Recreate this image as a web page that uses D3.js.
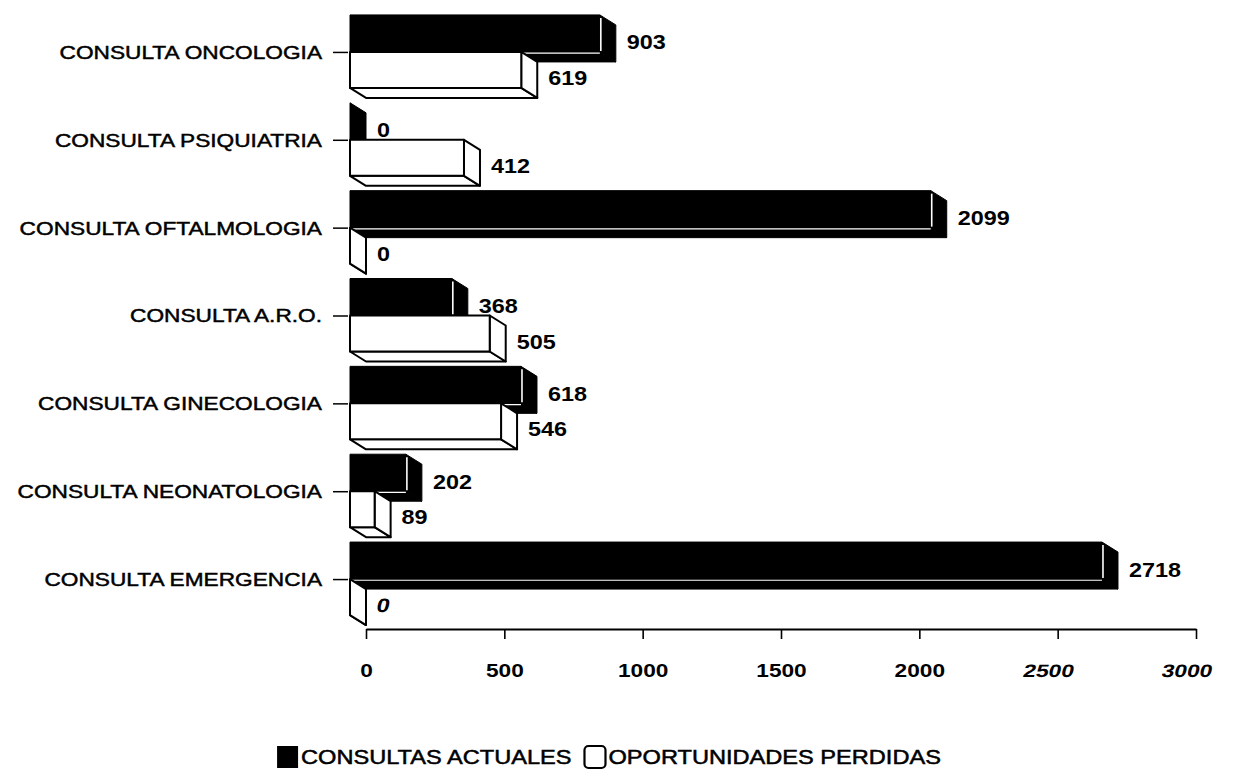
<!DOCTYPE html>
<html>
<head>
<meta charset="utf-8">
<script src="https://cdn.jsdelivr.net/npm/d3@7"></script>
<style>
  html, body { margin: 0; padding: 0; background: #fff; }
  svg { display: block; }
  text { font-family: "Liberation Sans", Arial, Helvetica, sans-serif; fill: #000; }
</style>
</head>
<body>
<svg id="chart" width="1236" height="775"></svg>
<script>
// Consultas por servicio: consultas actuales vs. oportunidades perdidas
const categories = [
  "CONSULTA ONCOLOGIA",
  "CONSULTA PSIQUIATRIA",
  "CONSULTA OFTALMOLOGIA",
  "CONSULTA A.R.O.",
  "CONSULTA GINECOLOGIA",
  "CONSULTA NEONATOLOGIA",
  "CONSULTA EMERGENCIA"
];
const consultasActuales = [903, 0, 2099, 368, 618, 202, 2718];
const oportunidadesPerdidas = [619, 412, 0, 505, 546, 89, 0];
const xTickValues = [0, 500, 1000, 1500, 2000, 2500, 3000];
const seriesNames = ["CONSULTAS ACTUALES", "OPORTUNIDADES PERDIDAS"];

const svg = d3.select("#chart");

// Geometry of the pseudo-3D bars: the front face starts at frontX,
// depth pushes each bar down and to the right by (depthX, depthY).
const frontX = 350;
const depthX = 16;
const depthY = 10;
const axisY = 629;

const x = d3.scaleLinear().domain([0, 3000]).range([0, 830]);
const xFloor = d3.scaleLinear().domain([0, 3000]).range([frontX + depthX, frontX + depthX + 830]);
const y = d3.scaleBand().domain(categories).range([8, 623]);
const yMid = c => y(c) + y.bandwidth() / 2;

const blackH = 37;
const whiteH = 36;

// Horizontal stretch used for the labels (wide lettering)
const stretch = 1.26;

function barFaces(v, top, h) {
  const w = x(v);
  const x0 = frontX, x1 = frontX + w;
  return {
    w,
    front: [[x0, top], [x1, top], [x1, top + h], [x0, top + h]],
    side: [[x1, top], [x1 + depthX, top + depthY], [x1 + depthX, top + h + depthY], [x1, top + h]],
    bottom: [[x0, top + h], [x1, top + h], [x1 + depthX, top + h + depthY], [x0 + depthX, top + h + depthY]]
  };
}

const poly = pts => "M" + pts.map(p => p.join(",")).join("L") + "Z";

// X axis along the floor
const xAxis = d3.axisBottom(xFloor)
  .tickValues(xTickValues)
  .tickSize(10)
  .tickSizeOuter(0)
  .tickPadding(25)
  .tickFormat(d3.format("d"));

const gx = svg.append("g")
  .attr("transform", `translate(0,${axisY})`)
  .call(xAxis);
gx.select(".domain").attr("stroke", "#000").attr("stroke-width", 2);
gx.selectAll(".tick line").attr("stroke", "#000").attr("stroke-width", 1.6);
gx.selectAll(".tick text")
  .attr("font-size", 18)
  .attr("font-weight", "bold")
  .attr("fill", "#000")
  .style("font-family", '"Liberation Sans", Arial, sans-serif')
  .attr("transform", d => d >= 2500 ? `scale(${stretch},1) skewX(-10)` : `scale(${stretch},1)`);

// Category axis
const yAxis = d3.axisLeft(d3.scalePoint().domain(categories).range([yMid(categories[0]), yMid(categories[categories.length - 1])]))
  .tickSize(15)
  .tickSizeOuter(0)
  .tickPadding(0);

const gy = svg.append("g")
  .attr("transform", `translate(${frontX - 2},0)`)
  .call(yAxis);
gy.select(".domain").remove();
gy.selectAll(".tick line").attr("stroke", "#000").attr("stroke-width", 1.5);
gy.selectAll(".tick text")
  .attr("x", -26 / stretch)
  .attr("dy", "0.36em")
  .attr("font-size", 18)
  .attr("fill", "#000")
  .attr("stroke", "#000")
  .attr("stroke-width", 0.45)
  .style("font-family", '"Liberation Sans", Arial, sans-serif')
  .attr("transform", `scale(${stretch},1)`);

// Bars, one group per category: dark bar above, outlined bar below
const bars = svg.append("g");
categories.forEach((c, i) => {
  const mid = yMid(c);
  const g = bars.append("g");

  // Consultas actuales (solid)
  const a = barFaces(consultasActuales[i], mid - blackH, blackH);
  g.append("path").attr("d", poly(a.bottom)).attr("fill", "#000").attr("stroke", "#000").attr("stroke-width", 1);
  g.append("path").attr("d", poly(a.side)).attr("fill", "#000").attr("stroke", "#000").attr("stroke-width", 1);
  if (a.w > 0) {
    g.append("path").attr("d", poly(a.front)).attr("fill", "#000").attr("stroke", "#000").attr("stroke-width", 1);
    // light edges between the faces
    g.append("line")
      .attr("x1", frontX + a.w + 1).attr("x2", frontX + a.w + 1)
      .attr("y1", mid - blackH + 3).attr("y2", mid - 1)
      .attr("stroke", "#fff").attr("stroke-width", 1.6);
    g.append("line")
      .attr("x1", frontX + 2).attr("x2", frontX + a.w)
      .attr("y1", mid + 1.2).attr("y2", mid + 1.2)
      .attr("stroke", "#fff").attr("stroke-width", 1.2);
  }
  g.append("text")
    .attr("transform", `translate(${frontX + a.w + depthX + 11},${mid - 9.5}) scale(1.2,1)`)
    .attr("dy", "0.36em")
    .attr("font-size", 19.5)
    .attr("font-weight", "bold")
    .text(consultasActuales[i]);

  // Oportunidades perdidas (outlined)
  const p = barFaces(oportunidadesPerdidas[i], mid, whiteH);
  const outline = sel => sel.attr("fill", "#fff").attr("stroke", "#000").attr("stroke-width", 2).attr("stroke-linejoin", "round");
  g.append("path").attr("d", poly(p.bottom)).call(outline);
  g.append("path").attr("d", poly(p.side)).call(outline);
  if (p.w > 0) g.append("path").attr("d", poly(p.front)).call(outline);
  g.append("text")
    .attr("transform", `translate(${frontX + p.w + depthX + 11},${mid + 26}) scale(1.2,1)` + (p.w === 0 && i === categories.length - 1 ? " skewX(-10)" : ""))
    .attr("dy", "0.36em")
    .attr("font-size", 19.5)
    .attr("font-weight", "bold")
    .text(oportunidadesPerdidas[i]);
});

// Legend, centred on the page
const legendStretch = 1.18;
const legend = svg.append("g");
let lx = 0;
seriesNames.forEach((name, i) => {
  if (i === 0) {
    legend.append("rect").attr("x", lx).attr("y", -11).attr("width", 21).attr("height", 22).attr("fill", "#000");
    lx += 24;
  } else {
    legend.append("rect").attr("x", lx + 1).attr("y", -11).attr("width", 21).attr("height", 22)
      .attr("rx", 4).attr("fill", "#fff").attr("stroke", "#000").attr("stroke-width", 2.2);
    lx += 25;
  }
  const t = legend.append("text")
    .attr("transform", `translate(${lx},0) scale(${legendStretch},1)`)
    .attr("dy", "0.36em")
    .attr("font-size", 20)
    .attr("stroke", "#000")
    .attr("stroke-width", 0.5)
    .text(name);
  lx += t.node().getComputedTextLength() * legendStretch + 12;
});
const legendWidth = lx - 12;
legend.attr("transform", `translate(${609 - legendWidth / 2},757)`);
</script>
</body>
</html>
